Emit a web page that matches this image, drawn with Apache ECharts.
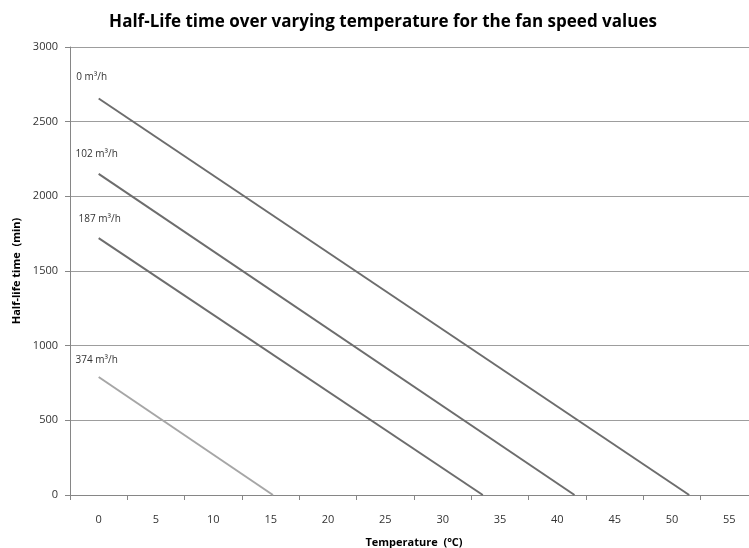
<!DOCTYPE html>
<html>
<head>
<meta charset="utf-8">
<script src="https://cdn.jsdelivr.net/npm/echarts@6/dist/echarts.min.js"></script>
<style>
  html, body { margin: 0; padding: 0; background: #fff; }
  #chart { width: 749px; height: 548px; }
</style>
</head>
<body>
<div id="chart"></div>
<script>
// temperature categories shown on the axis
var tempLabels = ["0", "5", "10", "15", "20", "25", "30", "35", "40", "45", "50", "55"];
var fanSpeeds = ["0 m³/h", "102 m³/h", "187 m³/h", "374 m³/h"];
// each line: start (0 °C) and end where it reaches 0 min
var temps0 = [0, 51.5];
var life0 = [2655, 0];
var temps102 = [0, 41.5];
var life102 = [2150, 0];
var temps187 = [0, 33.5];
var life187 = [1720, 0];
var temps374 = [0, 15.2];
var life374 = [790, 0];

var lineColors = ["#6d6d6d", "#6d6d6d", "#6d6d6d", "#a6a6a6"];
var labelOffsets = [[-7, -11], [-2, -10], [1, -9], [-2, -7]];

var chart = echarts.init(document.getElementById("chart"));

function makeSeries(i, xs, ys) {
  var data = xs.map(function (x, k) { return [x, ys[k]]; });
  data[0] = {
    value: data[0],
    label: {
      show: true,
      position: "top",
      offset: labelOffsets[i],
      formatter: fanSpeeds[i],
      fontSize: 10,
      color: "#333",
      fontFamily: "Open Sans"
    }
  };
  return {
    name: fanSpeeds[i],
    type: "line",
    xAxisIndex: 1,
    data: data,
    symbol: "circle",
    symbolSize: 0,
    lineStyle: { color: lineColors[i], width: 2 },
    itemStyle: { color: lineColors[i] },
    silent: true,
    animation: false
  };
}

chart.setOption({
  backgroundColor: "#fff",
  animation: false,
  title: {
    text: "Half-Life time over varying temperature for the fan speed values",
    left: 378,
    textAlign: "center",
    top: 9,
    textStyle: { fontSize: 17, fontWeight: "bold", color: "#000", fontFamily: "Open Sans" }
  },
  grid: { left: 70, top: 47, right: -9, bottom: 53, containLabel: false, outerBoundsMode: "none" },
  xAxis: [
    {
      type: "category",
      data: tempLabels,
      boundaryGap: true,
      name: "Temperature  (°C)",
      nameLocation: "middle",
      nameGap: 42,
      nameTextStyle: { fontSize: 11, fontWeight: "bold", color: "#000", fontFamily: "Open Sans" },
      axisLine: { lineStyle: { color: "#868686" } },
      axisTick: { show: true, length: 5, lineStyle: { color: "#868686" } },
      axisLabel: { margin: 19, fontSize: 11, color: "#333", fontFamily: "Open Sans" },
      splitLine: { show: false }
    },
    {
      type: "value",
      min: -2.5,
      max: 57.5,
      show: false
    }
  ],
  yAxis: {
    type: "value",
    min: 0,
    max: 3000,
    interval: 500,
    name: "Half-life time  (min)",
    nameLocation: "middle",
    nameGap: 48,
    nameTextStyle: { fontSize: 11, fontWeight: "bold", color: "#000", fontFamily: "Open Sans" },
    axisLine: { show: true, onZero: false, lineStyle: { color: "#868686" } },
    axisTick: { show: true, length: 5, lineStyle: { color: "#868686" } },
    axisLabel: {
      margin: 12, fontSize: 11, color: "#333", fontFamily: "Open Sans",
      formatter: function (v) { return String(v); }
    },
    splitLine: { show: true, lineStyle: { color: "#9d9d9d", width: 1 } }
  },
  series: [
    makeSeries(0, temps0, life0),
    makeSeries(1, temps102, life102),
    makeSeries(2, temps187, life187),
    makeSeries(3, temps374, life374)
  ]
});
</script>
</body>
</html>
